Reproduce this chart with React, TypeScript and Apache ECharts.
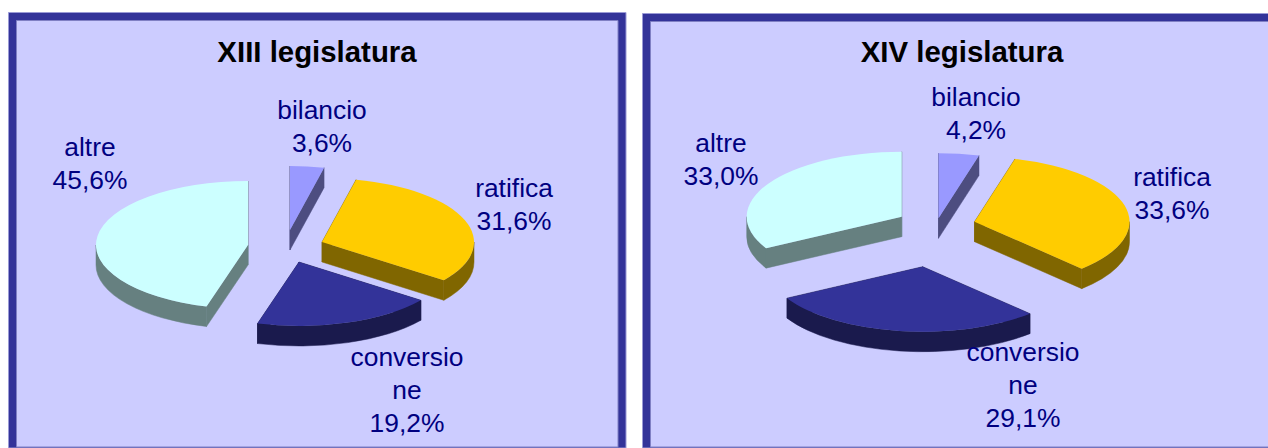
import React, { useEffect, useRef } from "react";
import * as echarts from "echarts";

const labels = ["bilancio", "ratifica", "conversio\nne", "altre"];
const values13 = [3.6, 31.6, 19.2, 45.6];
const values14 = [4.2, 33.6, 29.1, 33.0];
const titles = ["XIII legislatura", "XIV legislatura"];
const topColors = ["#9999FF", "#FFCC00", "#333399", "#CCFFFF"];
const sideColors = ["#4D4D80", "#806600", "#1A1A4D", "#668080"];

const layout13 = {
  rx: 152, ry: 64, depth: 20,
  apex: [[290, 230], [322, 242], [299, 262], [248, 245]],
  label: [[322, 126], [514, 204], [407, 390], [90, 163]],
};
const layout14 = {
  rx: 155, ry: 65, depth: 20,
  apex: [[938.5, 218.3], [974.5, 221.7], [922.7, 266.7], [901.7, 216.7]],
  label: [[976, 113], [1172, 193], [1023, 385], [721, 159]],
};

const FONT = "'Liberation Sans', Arial, sans-serif";
const rad = (d: number) => (d * Math.PI) / 180;

function makeSeries(values: number[], lay: typeof layout13) {
  const sum = values.reduce((a, b) => a + b, 0);
  return {
    type: "custom",
    coordinateSystem: "none",
    silent: true,
    data: values.map((v) => [v]),
    renderItem: (params: any) => {
      const i = params.dataIndex;
      const before = values.slice(0, i).reduce((a, b) => a + b, 0);
      const a0 = (before / sum) * 360;
      const a1 = ((before + values[i]) / sum) * 360;
      const [ax, ay] = lay.apex[i];
      const { rx, ry, depth } = lay;
      const pt = (a: number, dy = 0): [number, number] => [
        ax + Math.sin(rad(a)) * rx,
        ay - Math.cos(rad(a)) * ry + dy,
      ];
      const [sx, sy] = pt(a0);
      const [ex, ey] = pt(a1);
      const large = a1 - a0 > 180 ? 1 : 0;
      const top = `M${ax} ${ay}L${sx} ${sy}A${rx} ${ry} 0 ${large} 1 ${ex} ${ey}Z`;
      const children: any[] = [];
      const face = (d: string) =>
        children.push({ type: "path", shape: { pathData: d }, style: { fill: sideColors[i], stroke: sideColors[i], lineWidth: 0.5 } });
      // cut faces
      face(`M${ax} ${ay}L${sx} ${sy}L${sx} ${sy + depth}L${ax} ${ay + depth}Z`);
      face(`M${ax} ${ay}L${ex} ${ey}L${ex} ${ey + depth}L${ax} ${ay + depth}Z`);
      // outer wall, front half only
      const f0 = Math.max(a0, 90);
      const f1 = Math.min(a1, 270);
      if (f1 > f0) {
        const [p0x, p0y] = pt(f0);
        const [p1x, p1y] = pt(f1);
        face(
          `M${p0x} ${p0y}A${rx} ${ry} 0 0 1 ${p1x} ${p1y}L${p1x} ${p1y + depth}A${rx} ${ry} 0 0 0 ${p0x} ${p0y + depth}Z`
        );
      }
      children.push({ type: "path", shape: { pathData: top }, style: { fill: topColors[i] } });
      const [lx, ly] = lay.label[i];
      children.push({
        type: "text",
        x: lx,
        y: ly,
        z2: 100,
        style: {
          text: `${labels[i]}\n${values[i].toFixed(1).replace(".", ",")}%`,
          fill: "#000080",
          fontFamily: FONT,
          fontSize: 26.4,
          lineHeight: 33,
          align: "center",
          verticalAlign: "middle",
        },
      });
      return { type: "group", children };
    },
  };
}

function panel(x: number, y: number, w: number, title: string, titleX: number) {
  return [
    { type: "rect", shape: { x, y, width: w, height: 448 - y }, style: { fill: "#333399", stroke: "#9A9AD6", lineWidth: 1 }, z: 0 },
    { type: "rect", shape: { x: x + 8, y: y + 8, width: w - 16, height: 447 - y - 8 }, style: { fill: "#CCCCFF", stroke: "#8080C4", lineWidth: 1 }, z: 1 },
    {
      type: "text", x: titleX, y: 51, z: 2,
      style: { text: title, fill: "#000", fontFamily: FONT, fontSize: 29.4, fontWeight: "bold", align: "center", verticalAlign: "middle" },
    },
  ];
}

export default function App() {
  const ref = useRef<HTMLDivElement>(null);
  useEffect(() => {
    const chart = echarts.init(ref.current!, null, { renderer: "svg" });
    chart.setOption({
      animation: false,
      backgroundColor: "#ffffff",
      graphic: {
        elements: [
          ...panel(8.5, 12.5, 617.5, titles[0], 317),
          ...panel(642.5, 13.5, 640, titles[1], 962),
        ],
      },
      series: [makeSeries(values13, layout13), makeSeries(values14, layout14)],
    });
    return () => chart.dispose();
  }, []);
  return <div ref={ref} style={{ position: "absolute", left: 0, top: 0, width: 1268, height: 448 }} />;
}
